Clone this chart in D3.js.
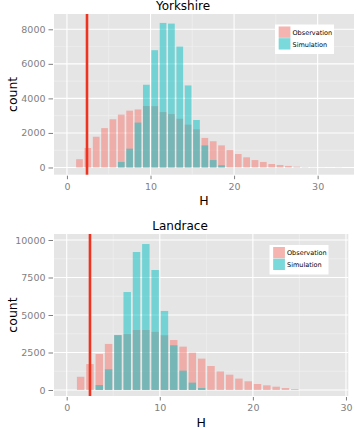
<!DOCTYPE html>
<html>
<head>
<meta charset="utf-8">
<script src="https://cdn.jsdelivr.net/npm/d3@7"></script>
<style>
    body { margin: 0; background: #fff; }
    svg { display: block; font-family: "DejaVu Sans", sans-serif; }
</style>
</head>
<body>
<svg id="chart"></svg>
<script>
// Yorkshire histogram counts (bar centres on H)
const yorkObsH = [1.5, 2.5, 3.5, 4.5, 5.5, 6.5, 7.5, 8.5, 9.5, 10.5, 11.5, 12.5, 13.5, 14.5, 15.5, 16.5,
    17.5, 18.5, 19.5, 20.5, 21.5, 22.5, 23.5, 24.5, 25.5, 26.5, 27.5, 28.5, 29.5, 30.5, 31.5, 32.5];
const yorkObsCount = [480, 1130, 1780, 2280, 2790, 3060, 3290, 3360, 3560, 3550, 3210, 3090, 2820, 2480, 2210, 1710,
    1520, 1280, 1010, 780, 590, 430, 320, 200, 145, 90, 45, 20, 10, 5, 3, 8];
const yorkSimH = [6.5, 7.5, 8.5, 9.5, 10.5, 11.5, 12.5, 13.5, 14.5, 15.5, 16.5, 17.5, 18.5];
const yorkSimCount = [320, 1090, 2600, 4790, 6790, 8370, 8330, 7000, 4750, 2750, 1280, 430, 130];

// Landrace histogram counts
const landObsH = [1.5, 2.5, 3.5, 4.5, 5.5, 6.5, 7.5, 8.5, 9.5, 10.5, 11.5, 12.5, 13.5, 14.5, 15.5, 16.5,
    17.5, 18.5, 19.5, 20.5, 21.5, 22.5, 23.5, 24.5];
const landObsCount = [880, 1730, 2400, 3070, 3650, 3730, 4000, 4000, 3870, 3650, 3330, 2890, 2490, 2090, 1600, 1240,
    1020, 760, 580, 400, 310, 220, 130, 60];
const landSimH = [3.5, 4.5, 5.5, 6.5, 7.5, 8.5, 9.5, 10.5, 11.5, 12.5, 13.5, 14.5];
const landSimCount = [330, 1380, 3670, 6530, 9200, 9730, 8000, 5270, 2980, 1290, 490, 130];

// Axis ticks and vertical cut-off lines
const xTicks = [0, 10, 20, 30];
const yorkYTicks = [0, 2000, 4000, 6000, 8000];
const landYTicks = [0, 2500, 5000, 7500, 10000];
const yorkCutoff = 2.4;
const landCutoff = 2.5;

const seriesNames = ["Observation", "Simulation"];
const seriesColors = ["#F8766D", "#00BFC4"];

const W = 356, H = 428;
const svg = d3.select("#chart").attr("width", W).attr("height", H);

const color = d3.scaleOrdinal().domain(seriesNames).range(seriesColors);

function toRows(hs, counts, series) {
    return hs.map((h, i) => ({ h: h, count: counts[i], series: series }));
}

// midpoints between major ticks -> minor grid lines
function minorOf(ticks) {
    return ticks.slice(1).map((t, i) => (t + ticks[i]) / 2);
}

function drawPanel(cfg) {
    const g = svg.append("g");
    const p = cfg.panel;

    const x = d3.scaleLinear().domain(cfg.xDomain).range([p.left, p.right]);
    const y = d3.scaleLinear().domain(cfg.yDomain).range([p.bottom, p.top]);

    // panel background
    g.append("rect")
        .attr("x", p.left).attr("y", p.top)
        .attr("width", p.right - p.left).attr("height", p.bottom - p.top)
        .attr("fill", "#E5E5E5");

    // minor grid
    const xMinor = minorOf(xTicks);
    const yMinor = minorOf(cfg.yTicks);
    g.selectAll(".vminor").data(xMinor).enter().append("line")
        .attr("x1", d => x(d)).attr("x2", d => x(d))
        .attr("y1", p.top).attr("y2", p.bottom)
        .attr("stroke", "#F2F2F2").attr("stroke-width", 0.6);
    g.selectAll(".hminor").data(yMinor).enter().append("line")
        .attr("y1", d => y(d)).attr("y2", d => y(d))
        .attr("x1", p.left).attr("x2", p.right)
        .attr("stroke", "#F2F2F2").attr("stroke-width", 0.6);

    // major grid
    g.selectAll(".vmajor").data(xTicks).enter().append("line")
        .attr("x1", d => x(d)).attr("x2", d => x(d))
        .attr("y1", p.top).attr("y2", p.bottom)
        .attr("stroke", "#fff").attr("stroke-width", 1.1);
    g.selectAll(".hmajor").data(cfg.yTicks).enter().append("line")
        .attr("y1", d => y(d)).attr("y2", d => y(d))
        .attr("x1", p.left).attr("x2", p.right)
        .attr("stroke", "#fff").attr("stroke-width", 1.1);

    // bars: observation first, simulation over it
    const barW = x(0.8) - x(0);
    [cfg.obs, cfg.sim].forEach(rows => {
        g.append("g").selectAll("rect").data(rows).enter().append("rect")
            .attr("x", d => x(d.h) - barW / 2)
            .attr("width", barW)
            .attr("y", d => y(d.count))
            .attr("height", d => y(0) - y(d.count))
            .attr("fill", d => color(d.series))
            .attr("fill-opacity", 0.5);
    });

    // cut-off line
    g.append("line")
        .attr("x1", x(cfg.cutoff)).attr("x2", x(cfg.cutoff))
        .attr("y1", p.top).attr("y2", p.bottom)
        .attr("stroke", "#EE3420").attr("stroke-width", 2.6);

    // x axis
    const xAxis = g.append("g").attr("transform", "translate(0," + p.bottom + ")")
        .call(d3.axisBottom(x).tickValues(xTicks).tickFormat(d3.format("d"))
            .tickSize(3.5).tickPadding(5).tickSizeOuter(0));
    // y axis
    const yAxis = g.append("g").attr("transform", "translate(" + (p.left - 1) + ",0)")
        .call(d3.axisLeft(y).tickValues(cfg.yTicks).tickFormat(d3.format("d"))
            .tickSize(4.5).tickPadding(3).tickSizeOuter(0));
    [xAxis, yAxis].forEach(a => {
        a.select(".domain").remove();
        a.selectAll("line").attr("stroke", "#7F7F7F").attr("stroke-width", 1);
        a.selectAll("text").attr("fill", "#7F7F7F")
            .style("font-size", "9.5px").style("font-family", "DejaVu Sans, sans-serif");
    });
    xAxis.selectAll("line").attr("transform", "translate(0,1)");

    // titles
    g.append("text")
        .attr("x", cfg.titleX).attr("y", p.top - 4.5)
        .attr("text-anchor", "middle")
        .style("font-size", "12px")
        .text(cfg.title);

    g.append("text")
        .attr("x", (p.left + p.right) / 2).attr("y", p.bottom + 30.5)
        .attr("text-anchor", "middle")
        .style("font-size", "12.5px")
        .text("H");

    g.append("text")
        .attr("transform", "translate(16.5," + ((p.top + p.bottom) / 2) + ") rotate(-90)")
        .attr("text-anchor", "middle")
        .style("font-size", "12.5px")
        .text("count");

    // legend
    const lg = cfg.legend;
    g.append("rect")
        .attr("x", lg.x).attr("y", lg.y)
        .attr("width", 59).attr("height", 29.5)
        .attr("fill", "#fff");
    seriesNames.forEach((name, i) => {
        const ky = lg.y + 2 + i * 11.7;
        g.append("rect")
            .attr("x", lg.x + 3.7).attr("y", ky)
            .attr("width", 11.7).attr("height", 11.3)
            .attr("fill", "#F2F2F2");
        g.append("rect")
            .attr("x", lg.x + 3.7).attr("y", ky)
            .attr("width", 11.7).attr("height", 11.3)
            .attr("fill", color(name)).attr("fill-opacity", 0.5);
        g.append("text")
            .attr("x", lg.x + 17.5).attr("y", ky + 8.3)
            .style("font-size", "6.5px")
            .text(name);
    });
}

drawPanel({
    title: "Yorkshire",
    titleX: 183,
    obs: toRows(yorkObsH, yorkObsCount, "Observation"),
    sim: toRows(yorkSimH, yorkSimCount, "Simulation"),
    cutoff: yorkCutoff,
    yTicks: yorkYTicks,
    xDomain: [-1.55, 34.35],
    yDomain: [-417, 8886],
    panel: { left: 54, right: 354, top: 14, bottom: 174.7 },
    legend: { x: 275, y: 24.5 }
});

drawPanel({
    title: "Landrace",
    titleX: 180,
    obs: toRows(landObsH, landObsCount, "Observation"),
    sim: toRows(landSimH, landSimCount, "Simulation"),
    cutoff: landCutoff,
    yTicks: landYTicks,
    xDomain: [-1.364, 30.25],
    yDomain: [-400, 10400],
    panel: { left: 54, right: 348.3, top: 234, bottom: 396 },
    legend: { x: 269.5, y: 245 }
});
</script>
</body>
</html>
